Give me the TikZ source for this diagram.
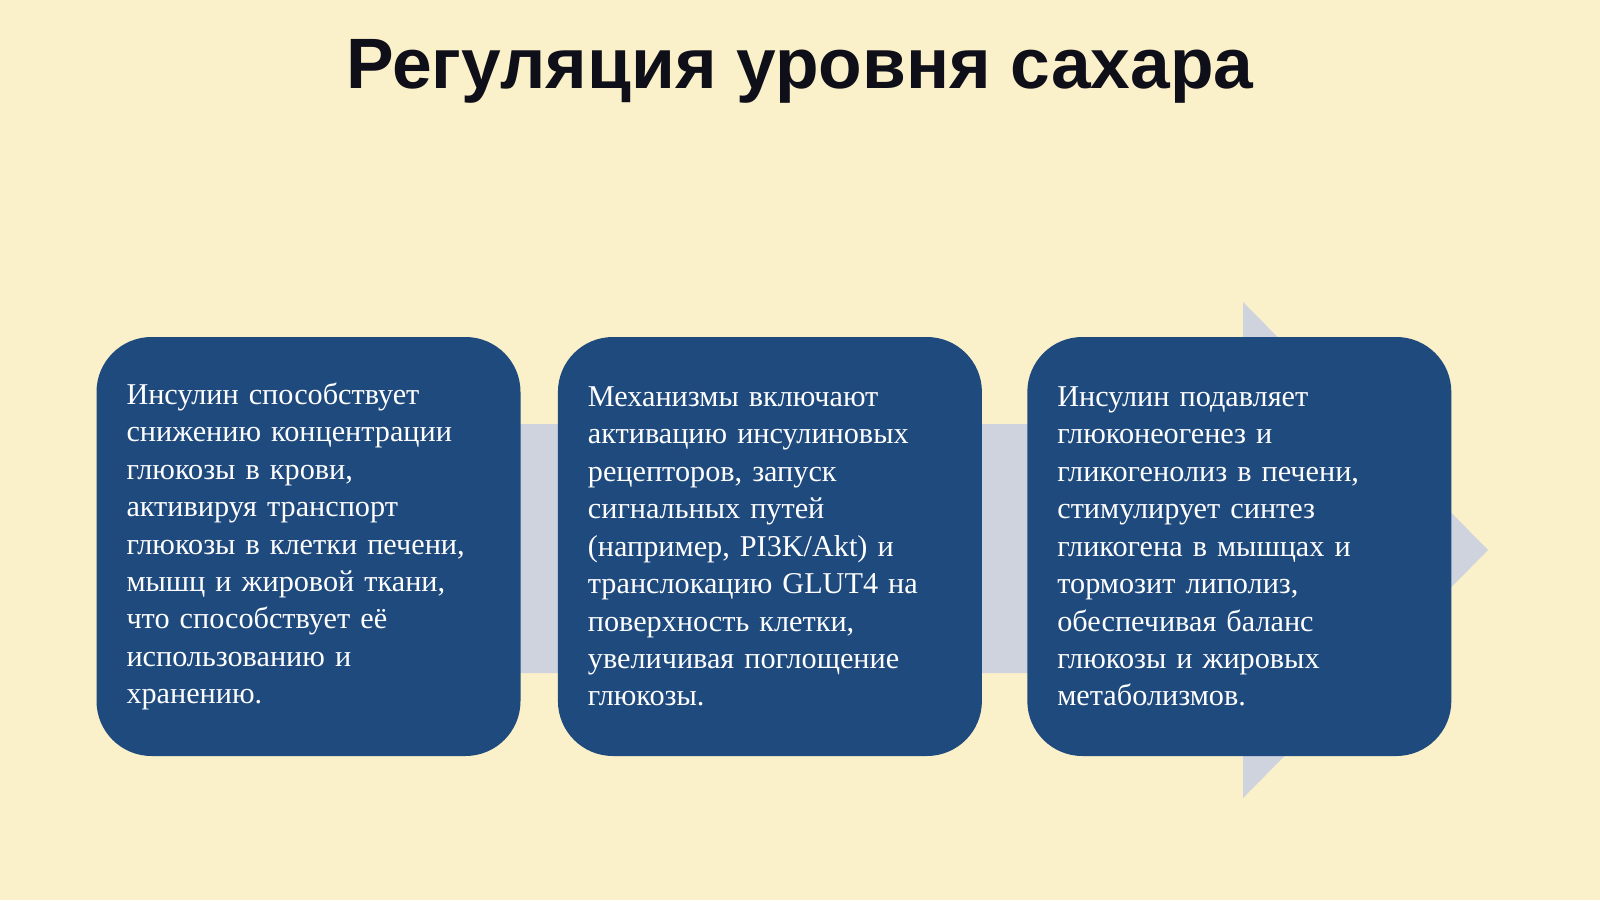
\documentclass[tikz,border=0pt]{standalone}
\usepackage{fontspec}
\setmainfont{Liberation Serif}
\newfontfamily\headfont{Liberation Sans}
\usetikzlibrary{positioning}
\definecolor{cream}{RGB}{250,240,201}
\definecolor{navy}{RGB}{31,74,126}
\definecolor{pale}{RGB}{206,211,222}
\definecolor{ink}{RGB}{15,15,25}

\begin{document}
\begin{tikzpicture}[card/.style = {shape=rectangle, rounded corners=0.55cm, fill=navy, text=white, minimum width=4.24cm, minimum height=4.19cm, text width=3.64cm, inner xsep=0.3cm, align=left, font=\fontsize{8.6}{10.65}\selectfont}]
    \fill[cream] (0,0) rectangle (16,9);
    \useasboundingbox (0,0) rectangle (16,9);
    \fill[pale] (2,2.27) -- (12.43,2.27) -- (12.43,1.02) -- (14.88,3.50) -- (12.43,5.98) -- (12.43,4.76) -- (2,4.76) -- cycle;
    \node[font=\headfont\bfseries\fontsize{20.3}{24}\selectfont, text=ink] (title) at (8,8.29) {Регуляция уровня сахара};
    \node[card] (lower) at (3.085,3.535) {Инсулин способствует\\ снижению концентрации\\ глюкозы в крови,\\ активируя транспорт\\ глюкозы в клетки печени,\\ мышц и жировой ткани,\\ что способствует её\\ использованию и\\ хранению.\\[0.1cm]};
    \node[card, right=0.36cm of lower] (mech) {Механизмы включают\\ активацию инсулиновых\\ рецепторов, запуск\\ сигнальных путей\\ (например, PI3K/Akt) и\\ транслокацию GLUT4 на\\ поверхность клетки,\\ увеличивая поглощение\\ глюкозы.};
    \node[card, right=0.44cm of mech] (liver) {Инсулин подавляет\\ глюконеогенез и\\ гликогенолиз в печени,\\ стимулирует синтез\\ гликогена в мышцах и\\ тормозит липолиз,\\ обеспечивая баланс\\ глюкозы и жировых\\ метаболизмов.};
\end{tikzpicture}
\end{document}
